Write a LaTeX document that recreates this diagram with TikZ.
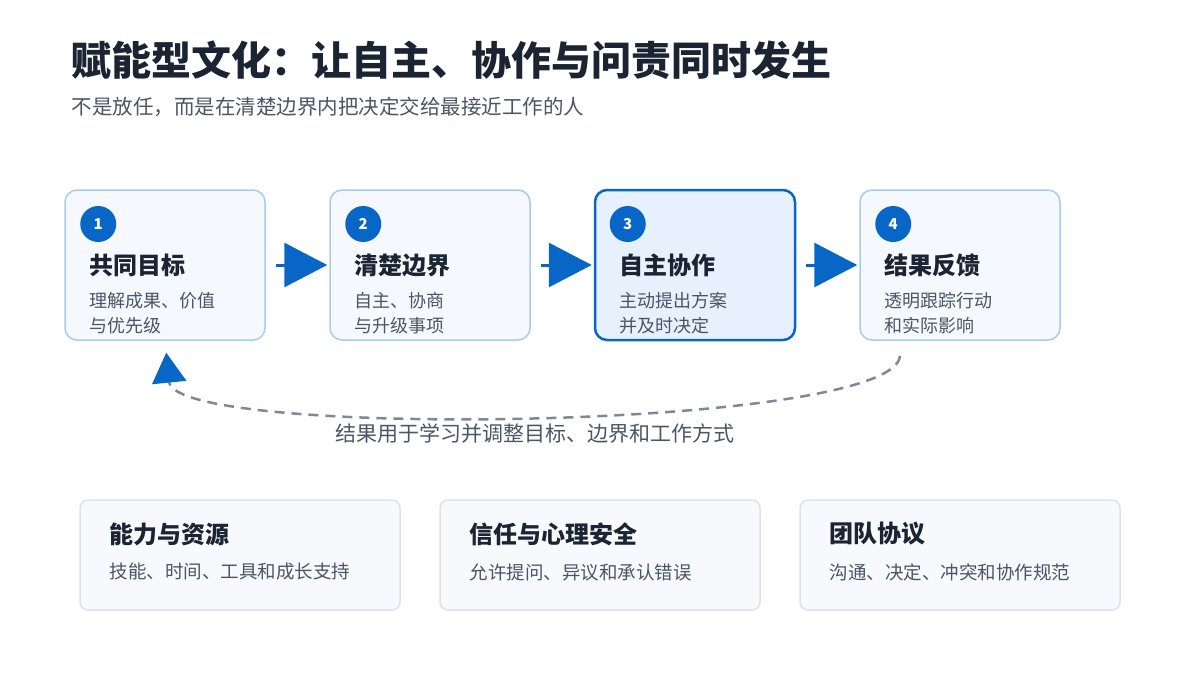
\documentclass[tikz,border=0pt]{standalone}
\usepackage{fontspec}
\setmainfont{Noto Sans CJK SC}
\usetikzlibrary{arrows.meta,positioning}
\definecolor{ink}{HTML}{1B2433}
\definecolor{mute}{HTML}{4A5566}
\definecolor{accent}{HTML}{0866C6}
\definecolor{edge}{HTML}{A9CBEB}
\definecolor{paper}{HTML}{F5F9FE}
\definecolor{hot}{HTML}{E6F1FD}
\definecolor{card}{HTML}{F7F9FC}
\definecolor{cardedge}{HTML}{DCE2EA}
\definecolor{dashgray}{HTML}{7D8898}
\tikzset{
  stage/.style={draw=edge,line width=1.5pt,fill=paper,rounded corners=12pt,minimum width=200pt,minimum height=150pt},
  num/.style={circle,fill=accent,text=white,minimum size=36pt,inner sep=0pt,font=\fontsize{15}{15}\selectfont\bfseries},
  head/.style={anchor=west,text=ink,font=\fontsize{24}{24}\selectfont\bfseries},
  note/.style={anchor=north west,align=left,text=mute,font=\fontsize{18}{25}\selectfont},
  flow/.style={accent,line width=3pt,-{Triangle[length=43pt,width=44pt]},shorten <=10pt,shorten >=2pt},
  box/.style={draw=cardedge,line width=1.5pt,fill=card,rounded corners=8pt,minimum width=320pt,minimum height=110pt},
}
\begin{document}
\begin{tikzpicture}[x=1pt,y=-1pt]
    \useasboundingbox[fill=white] (0,0) rectangle (1200,675);
    \node[anchor=west,text=ink,font=\fontsize{40}{40}\selectfont\bfseries] (title) at (68,60) {赋能型文化：让自主、协作与问责同时发生};
    \node[anchor=west,text=mute,font=\fontsize{20.5}{20.5}\selectfont] (sub) at (68,107) {不是放任，而是在清楚边界内把决定交给最接近工作的人};

    % stages
    \node[stage] (s1) at (165,265) {};
    \node[stage] (s2) at (430,265) {};
    \node[stage,draw=accent,line width=2.5pt,fill=hot] (s3) at (695,265) {};
    \node[stage] (s4) at (960,265) {};
    \foreach \i/\t/\a/\b in {1/共同目标/理解成果、价值/与优先级,
                             2/清楚边界/自主、协商/与升级事项,
                             3/自主协作/主动提出方案/并及时决定,
                             4/结果反馈/透明跟踪行动/和实际影响} {
      \node[num] (n\i) at ([xshift=34pt,yshift=41pt]s\i.west) {\i};
      \node[head] (h\i) at ([xshift=22pt]s\i.west) {\t};
      \node[note] (d\i) at ([xshift=22pt,yshift=-24pt]s\i.west) {\a\\\b};
    }
    \draw[flow] (s1) -- (s2);
    \draw[flow] (s2) -- (s3);
    \draw[flow] (s3) -- (s4);

    % feedback loop
    \coordinate (back) at ([xshift=-60pt,yshift=-15pt]s4.south);
    \draw[draw=dashgray,line width=2.5pt,dash pattern=on 10pt off 7pt,-{Triangle[length=30pt,width=34pt,color=accent]},shorten >=12pt]
      (back) .. controls (895,430) and (175,440) .. (s1.south);
    \node[text=mute,font=\fontsize{21}{21}\selectfont] (lbl) at (535,433) {结果用于学习并调整目标、边界和工作方式};

    % cards
    \node[box] (c1) at (240,555) {};
    \node[box] (c2) at (600,555) {};
    \node[box] (c3) at (960,555) {};
    \foreach \i/\t/\d in {1/能力与资源/技能、时间、工具和成长支持,
                          2/信任与心理安全/允许提问、异议和承认错误,
                          3/团队协议/沟通、决定、冲突和协作规范} {
      \node[anchor=west,text=ink,font=\fontsize{24}{24}\selectfont\bfseries] (t\i) at ([xshift=27pt,yshift=21pt]c\i.west) {\t};
      \node[anchor=west,text=mute,font=\fontsize{18.5}{18.5}\selectfont] (e\i) at ([xshift=27pt,yshift=-17pt]c\i.west) {\d};
    }
\end{tikzpicture}
\end{document}
